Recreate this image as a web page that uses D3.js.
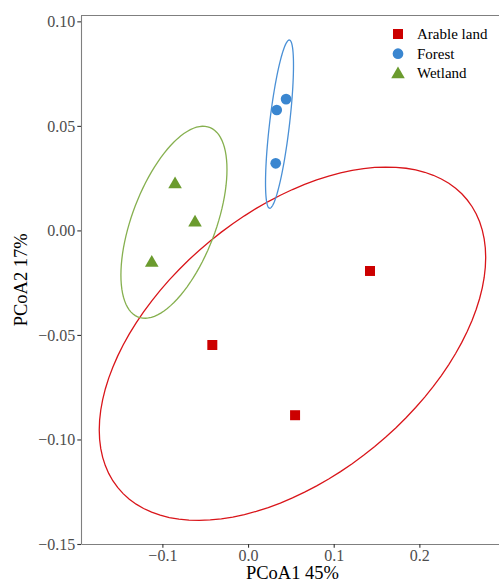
<!DOCTYPE html>
<html>
<head>
<meta charset="utf-8">
<script src="https://cdn.jsdelivr.net/npm/d3@7"></script>
<style>
  html, body { margin: 0; padding: 0; background: #fff; overflow: hidden; }
  svg { display: block; font-family: "Liberation Serif", "Times New Roman", serif; }
</style>
</head>
<body>
<svg id="chart"></svg>
<script>
// PCoA scores
const groups = ["Arable land", "Forest", "Wetland"];
const arableX = [-0.0417, 0.0549, 0.1424];
const arableY = [-0.0548, -0.0884, -0.0194];
const forestX = [0.0335, 0.0444, 0.0323];
const forestY = [0.0576, 0.0628, 0.0321];
const wetlandX = [-0.0852, -0.0619, -0.1124];
const wetlandY = [0.0225, 0.0042, -0.0150];
const xTicks = [-0.1, 0.0, 0.1, 0.2];
const yTicks = [-0.15, -0.10, -0.05, 0.00, 0.05, 0.10];
const ellipseLevel = 0.75;

(() => {
    const width = 499;
    const height = 582;
    const margin = { top: 15.5, bottom: 38, left: 81 };
    const panelRight = 504;   // panel runs past the right edge of the picture

    const colors = { "Arable land": "#cc0000", "Forest": "#3a86d0", "Wetland": "#6b9b2e" };
    const lineColors = { "Arable land": "#d9151a", "Forest": "#4a90d6", "Wetland": "#86b04f" };
    const shapes = { "Arable land": d3.symbolSquare, "Forest": d3.symbolCircle, "Wetland": d3.symbolTriangle };
    const sizes = { "Arable land": 100, "Forest": 90, "Wetland": 80 };

    const xs = [arableX, forestX, wetlandX];
    const ys = [arableY, forestY, wetlandY];

    const points = [];
    groups.forEach((g, gi) => {
        xs[gi].forEach((x, i) => points.push({ group: g, x: x, y: ys[gi][i] }));
    });

    // normal-theory data ellipse, like stat_ellipse(type = "norm")
    // F(2, n-1) with n = 3 has quantile p / (1 - p)
    function ellipse(px, py) {
        const n = px.length;
        const mx = d3.mean(px), my = d3.mean(py);
        let sxx = 0, syy = 0, sxy = 0;
        for (let i = 0; i < n; i++) {
            sxx += (px[i] - mx) ** 2;
            syy += (py[i] - my) ** 2;
            sxy += (px[i] - mx) * (py[i] - my);
        }
        sxx /= n - 1; syy /= n - 1; sxy /= n - 1;
        const radius = Math.sqrt(2 * ellipseLevel / (1 - ellipseLevel));
        // cholesky of covariance
        const a = Math.sqrt(sxx);
        const c = sxy / a;
        const dd = Math.sqrt(syy - c * c);
        const pts = [];
        for (let k = 0; k <= 100; k++) {
            const t = 2 * Math.PI * k / 100;
            const u = Math.cos(t), v = Math.sin(t);
            pts.push([mx + radius * a * u, my + radius * (c * u + dd * v)]);
        }
        return pts;
    }

    const ellipses = groups.map((g, gi) => ({ group: g, pts: ellipse(xs[gi], ys[gi]) }));

    const x = d3.scaleLinear()
        .domain([-0.195, 0.2988])
        .range([margin.left, panelRight]);
    const y = d3.scaleLinear()
        .domain([-0.15, 0.1028])
        .range([height - margin.bottom, margin.top]);

    const svg = d3.select("#chart")
        .attr("width", width)
        .attr("height", height);

    // panel border (top line; left and bottom come from the axes)
    svg.append("line")
        .attr("x1", margin.left).attr("x2", width)
        .attr("y1", margin.top).attr("y2", margin.top)
        .attr("stroke", "#7f7f7f")
        .attr("stroke-width", 1.1);

    // axes
    const xAxis = svg.append("g")
        .attr("transform", `translate(0,${height - margin.bottom})`)
        .call(d3.axisBottom(x).tickValues(xTicks).tickFormat(d3.format(".1f")).tickSize(3.7).tickSizeOuter(0).tickPadding(2));
    const yAxis = svg.append("g")
        .attr("transform", `translate(${margin.left},0)`)
        .call(d3.axisLeft(y).tickValues(yTicks).tickFormat(d3.format(".2f")).tickSize(3.7).tickSizeOuter(0).tickPadding(2));

    [xAxis, yAxis].forEach(ax => {
        ax.select(".domain").attr("stroke", "#7f7f7f").attr("stroke-width", 1.1);
        ax.selectAll(".tick line").attr("stroke", "#333").attr("stroke-width", 1.1);
        ax.selectAll(".tick text")
            .attr("fill", "#4d4d4d")
            .attr("font-size", "16px")
            .attr("font-family", "Liberation Serif, serif")
            .text(function (d) { return d3.select(this).text().replace("-", "\u2212"); });
    });

    // ellipses
    const line = d3.line().x(p => x(p[0])).y(p => y(p[1]));
    svg.append("g")
        .selectAll("path")
        .data(ellipses)
        .enter()
        .append("path")
        .attr("d", d => line(d.pts))
        .attr("fill", "none")
        .attr("stroke", d => lineColors[d.group])
        .attr("stroke-width", 1.3);

    // points
    svg.append("g")
        .selectAll("path")
        .data(points)
        .enter()
        .append("path")
        .attr("transform", d => `translate(${x(d.x)},${y(d.y) + (d.group === "Wetland" ? 1 : 0)})`)
        .attr("d", d => d3.symbol().type(shapes[d.group]).size(sizes[d.group])())
        .attr("fill", d => colors[d.group]);

    // legend
    const legend = svg.append("g").attr("transform", "translate(398,34)");
    const item = legend.selectAll("g")
        .data(groups)
        .enter()
        .append("g")
        .attr("transform", (d, i) => `translate(0,${i * 19.7})`);
    item.append("path")
        .attr("transform", d => d === "Wetland" ? "translate(0,1)" : null)
        .attr("d", d => d3.symbol().type(shapes[d]).size(sizes[d])())
        .attr("fill", d => colors[d]);
    item.append("text")
        .attr("x", 19)
        .attr("dy", "0.33em")
        .attr("font-size", "15px")
        .attr("fill", "#000")
        .text(d => d);

    // axis titles
    svg.append("text")
        .attr("x", (margin.left + panelRight) / 2)
        .attr("y", 579)
        .attr("text-anchor", "middle")
        .attr("font-size", "18.5px")
        .attr("fill", "#000")
        .text("PCoA1 45%");
    svg.append("text")
        .attr("transform", `translate(27,${(margin.top + height - margin.bottom) / 2}) rotate(-90)`)
        .attr("text-anchor", "middle")
        .attr("font-size", "18.5px")
        .attr("fill", "#000")
        .text("PCoA2 17%");
})();
</script>
</body>
</html>
